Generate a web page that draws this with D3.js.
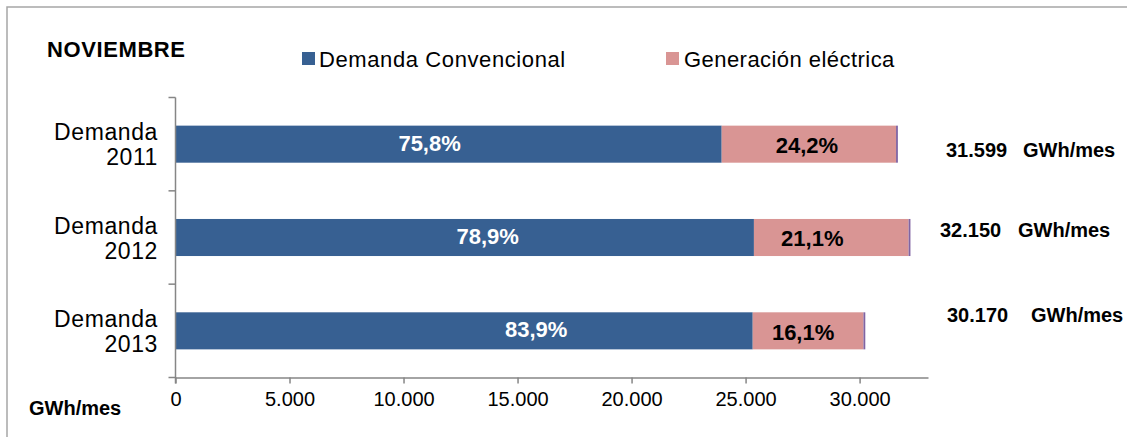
<!DOCTYPE html>
<html><head><meta charset="utf-8">
<script src="https://cdn.jsdelivr.net/npm/d3@7"></script>
<style>
html,body{margin:0;padding:0;background:#fff;}
svg text{font-family:"Liberation Sans",Arial,sans-serif;}
</style></head>
<body><svg id="c" width="1127" height="437"></svg>
<script>
// ---- data ----
const categories = ["Demanda 2011", "Demanda 2012", "Demanda 2013"];
const totals = [31599, 32150, 30170];
const convPct = [75.8, 78.9, 83.9];
const genPct = [24.2, 21.1, 16.1];
const conventional = [23952, 25366, 25313];
const generation = [7647, 6784, 4857];
const other = [80, 80, 80];
const xTicks = [0, 5000, 10000, 15000, 20000, 25000, 30000];
const seriesNames = ["Demanda Convencional", "Generación eléctrica"];
const title = "NOVIEMBRE";
const unit = "GWh/mes";

// ---- layout (not data) ----
const convLabelShift = [-19, 23, 72];
const genLabelShift = [-2, -19, -5];
const colors = {conv:"#376092", gen:"#D99594", other:"#8064A2", axis:"#868686"};

const svg = d3.select("#c");
const loc = d3.formatLocale({decimal:",", thousands:".", grouping:[3], currency:["",""]});
const fmtInt = loc.format(",d");
const fmtPct = v => loc.format(".1f")(v) + "%";

// border
svg.append("rect").attr("x",7).attr("y",7).attr("width",1140).attr("height",450)
  .attr("fill","none").attr("stroke","#a6a6a6").attr("stroke-width",1.5);

const x = d3.scaleLinear().domain([0, 33000]).range([175.5, 928]);
const y = d3.scaleBand().domain(categories).range([97.5, 377.5]).paddingInner(0.603).paddingOuter(0.3015);

// stacks
const rows = categories.map((c,i)=>({c, conv:conventional[i], gen:generation[i], other:other[i]}));
const stack = d3.stack().keys(["conv","gen","other"])(rows);
const g = svg.append("g");
stack.forEach(layer=>{
  g.selectAll(null).data(layer).enter().append("rect")
    .attr("x",d=>x(d[0])).attr("width",d=>x(d[1])-x(d[0]))
    .attr("y",d=>y(d.data.c)).attr("height",y.bandwidth())
    .attr("fill",colors[layer.key]);
});

// axes
const yA = svg.append("g").attr("stroke",colors.axis).attr("stroke-width",1.5);
const [r0,r1] = y.range();
yA.append("line").attr("x1",x(0)).attr("x2",x(0)).attr("y1",r0).attr("y2",r1+6);
const step = y.step();
d3.range(categories.length+1).forEach(k=>{
  const yy = r0 + k*step;
  yA.append("line").attr("x1",x(0)-7).attr("x2",x(0)).attr("y1",yy).attr("y2",yy);
});
const xAxis = d3.axisBottom(x).tickValues(xTicks).tickSize(6).tickSizeOuter(0).tickFormat(d=>fmtInt(d));
const xg = svg.append("g").attr("transform",`translate(0,${r1})`).call(xAxis);
xg.select(".domain").attr("stroke",colors.axis).attr("stroke-width",1.5);
xg.selectAll(".tick line").attr("stroke",colors.axis).attr("stroke-width",1.5);
xg.selectAll(".tick text").attr("font-size",20).attr("fill","#000").attr("y",14).attr("dy","0.71em")
  .attr("font-family","Liberation Sans, Arial, sans-serif");

// category labels
categories.forEach(c=>{
  const parts = c.split(" ");
  const cy = y(c) + y.bandwidth()/2;
  const t = svg.append("text").attr("text-anchor","end").attr("font-size",23).attr("letter-spacing","0.6px").attr("fill","#000");
  t.append("tspan").attr("x",158).attr("y",cy-4).text(parts[0]);
  t.append("tspan").attr("x",158).attr("y",cy+21).text(parts[1]);
});

// value labels
rows.forEach((r,i)=>{
  const cy = y(r.c) + y.bandwidth()/2;
  svg.append("text").attr("x",(x(0)+x(r.conv))/2 + convLabelShift[i]).attr("y",cy).attr("dy","0.3em")
    .attr("text-anchor","middle").attr("font-size",22).attr("font-weight","bold").attr("fill","#fff")
    .text(fmtPct(convPct[i]));
  svg.append("text").attr("x",(x(r.conv)+x(r.conv+r.gen))/2 + genLabelShift[i]).attr("y",cy).attr("dy","0.4em")
    .attr("text-anchor","middle").attr("font-size",22).attr("font-weight","bold").attr("fill","#000")
    .text(fmtPct(genPct[i]));
});

// totals on right
const totPos = [[946,1023,157],[940,1018,237],[947,1031,322]];
totals.forEach((v,i)=>{
  svg.append("text").attr("x",totPos[i][0]).attr("y",totPos[i][2]).attr("font-size",20).attr("font-weight","bold").text(fmtInt(v));
  svg.append("text").attr("x",totPos[i][1]).attr("y",totPos[i][2]).attr("font-size",20).attr("font-weight","bold").text(unit);
});

// title, legend, axis unit
svg.append("text").attr("x",47).attr("y",57).attr("font-size",22).attr("letter-spacing","0.6px").attr("font-weight","bold").text(title);
svg.append("rect").attr("x",302).attr("y",52).attr("width",13).attr("height",13).attr("fill",colors.conv);
svg.append("text").attr("x",319).attr("y",67).attr("font-size",22).attr("letter-spacing","0.6px").text(seriesNames[0]);
svg.append("rect").attr("x",666).attr("y",52).attr("width",13).attr("height",13).attr("fill",colors.gen);
svg.append("text").attr("x",684).attr("y",67).attr("font-size",22).attr("letter-spacing","0.45px").text(seriesNames[1]);
svg.append("text").attr("x",29).attr("y",415).attr("font-size",20).attr("font-weight","bold").text(unit);
</script></body></html>
